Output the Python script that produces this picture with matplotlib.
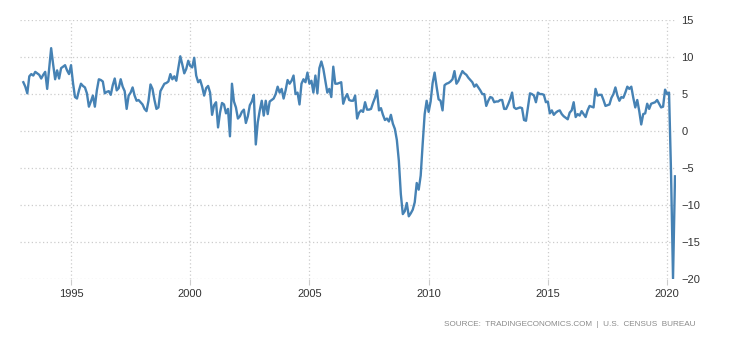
import matplotlib
matplotlib.use('Agg')
from matplotlib import pyplot as plt
import numpy as np

# monthly year-over-year change, Jan 1993 .. May 2020
y1993 = [6.6, 6.0, 5.1, 7.4, 7.7, 7.5, 8.0, 7.8, 7.6, 7.1, 7.6, 8.0]
y1994 = [5.7, 8.5, 11.2, 9.0, 7.0, 8.2, 7.1, 8.5, 8.7, 8.9, 8.2, 7.7]
y1995 = [8.9, 6.5, 4.6, 4.4, 5.5, 6.4, 6.1, 5.9, 5.1, 3.3, 4.0, 4.8]
y1996 = [3.3, 5.5, 7.0, 6.9, 6.7, 5.1, 5.3, 5.4, 4.9, 6.2, 7.1, 5.5]
y1997 = [5.8, 7.0, 6.0, 5.4, 3.0, 4.8, 5.2, 5.9, 4.8, 4.1, 4.2, 3.9]
y1998 = [3.6, 3.0, 2.7, 4.1, 6.3, 5.7, 4.2, 3.0, 3.2, 5.4, 5.9, 6.4]
y1999 = [6.5, 6.7, 7.7, 7.0, 7.4, 6.8, 8.5, 10.1, 9.0, 7.8, 8.4, 9.5]
y2000 = [8.8, 8.6, 9.9, 7.5, 6.6, 6.9, 6.0, 4.8, 5.8, 6.1, 5.2, 2.2]
y2001 = [3.5, 3.9, 0.5, 2.5, 3.8, 3.6, 2.4, 3.0, -0.7, 6.4, 4.0, 3.2]
y2002 = [1.7, 2.0, 2.6, 2.9, 1.1, 2.0, 3.5, 4.0, 4.9, -1.8, 1.2, 2.8]
y2003 = [4.1, 2.1, 4.1, 2.3, 4.0, 4.2, 4.4, 5.0, 6.0, 5.2, 5.7, 4.4]
y2004 = [5.5, 6.9, 6.4, 6.8, 7.5, 5.0, 5.2, 3.6, 6.4, 7.0, 6.6, 7.9]
y2005 = [6.4, 6.8, 5.2, 7.5, 5.1, 8.5, 9.4, 8.4, 6.8, 5.2, 5.7, 4.6]
y2006 = [8.7, 6.4, 6.4, 6.5, 6.6, 3.7, 4.5, 5.0, 4.2, 4.1, 4.1, 4.8]
y2007 = [1.7, 2.5, 2.8, 2.6, 3.9, 2.9, 2.9, 3.0, 3.8, 4.5, 5.5, 2.8]
y2008 = [3.1, 2.2, 1.5, 1.7, 1.3, 2.2, 1.0, 0.3, -1.2, -4.0, -8.5, -11.2]
y2009 = [-10.8, -9.7, -11.5, -11.1, -10.6, -9.6, -7.0, -7.9, -6.0, -1.7, 2.3, 4.1]
y2010 = [2.6, 4.0, 6.5, 7.9, 6.0, 4.3, 4.1, 2.8, 6.2, 6.4, 6.5, 6.7]
y2011 = [7.0, 8.1, 6.4, 6.8, 7.5, 8.1, 7.8, 7.6, 7.2, 6.9, 6.6, 6.0]
y2012 = [6.3, 5.9, 5.5, 5.0, 5.0, 3.4, 4.1, 4.6, 4.5, 3.9, 4.0, 4.0]
y2013 = [4.2, 4.2, 3.0, 3.0, 3.6, 4.3, 5.2, 3.2, 3.0, 3.1, 3.2, 3.1]
y2014 = [1.5, 1.4, 3.2, 5.1, 5.0, 4.8, 3.9, 5.2, 5.0, 5.0, 4.9, 3.9]
y2015 = [4.0, 2.4, 2.8, 2.2, 2.5, 2.7, 2.8, 2.3, 2.0, 1.8, 1.6, 2.5]
y2016 = [2.8, 3.9, 1.9, 2.3, 2.1, 2.7, 2.3, 1.9, 2.8, 3.4, 3.3, 3.2]
y2017 = [5.7, 4.8, 4.9, 4.9, 4.2, 3.4, 3.5, 3.6, 4.5, 5.0, 5.9, 4.8]
y2018 = [4.1, 4.6, 4.5, 5.2, 6.0, 5.7, 6.0, 4.5, 3.2, 4.2, 2.7, 0.9]
y2019 = [2.3, 2.4, 3.7, 3.0, 3.7, 3.8, 3.9, 4.2, 3.7, 3.2, 3.3, 5.6]
y2020 = [5.0, 5.2, -5.6, -19.9, -6.1]

values = (y1993 + y1994 + y1995 + y1996 + y1997 + y1998 + y1999 + y2000 +
          y2001 + y2002 + y2003 + y2004 + y2005 + y2006 + y2007 + y2008 +
          y2009 + y2010 + y2011 + y2012 + y2013 + y2014 + y2015 + y2016 +
          y2017 + y2018 + y2019 + y2020)
dates = 1993 + np.arange(len(values)) / 12.0

xticks = [1995, 2000, 2005, 2010, 2015, 2020]
yticks = [15, 10, 5, 0, -5, -10, -15, -20]
source = 'SOURCE:  TRADINGECONOMICS.COM  |  U.S.  CENSUS  BUREAU'

plt.rcParams['font.family'] = ['Liberation Sans', 'DejaVu Sans']

fig = plt.figure(figsize=(7.3, 3.4), dpi=100)
ax = fig.add_axes([20 / 730, 1 - 279.3 / 340, 656 / 730, 259.3 / 340])

ax.plot(dates, values, color='#4682b4', linewidth=1.7, solid_joinstyle='round')

ax.set_xlim(1992.86, 2020.375)
ax.set_ylim(-20, 15)
ax.set_xticks(xticks)
ax.set_xticklabels([str(t) for t in xticks])
ax.set_yticks(yticks)
ax.yaxis.tick_right()

ax.grid(True, color='#cccccc', linestyle=(0, (1, 2)), linewidth=0.9)
ax.set_axisbelow(True)
for s in ax.spines.values():
   s.set_visible(False)

ax.tick_params(axis='x', length=4, color='#cccccc', labelsize=8, labelcolor='#333333', pad=3)
ax.tick_params(axis='y', length=0, labelsize=8, labelcolor='#333333', pad=4)

fig.text(696 / 730, 1 - 324 / 340, source, ha='right', va='center',
         fontsize=5.9, color='#8a8a8a')

plt.savefig('out.png', dpi=100)
